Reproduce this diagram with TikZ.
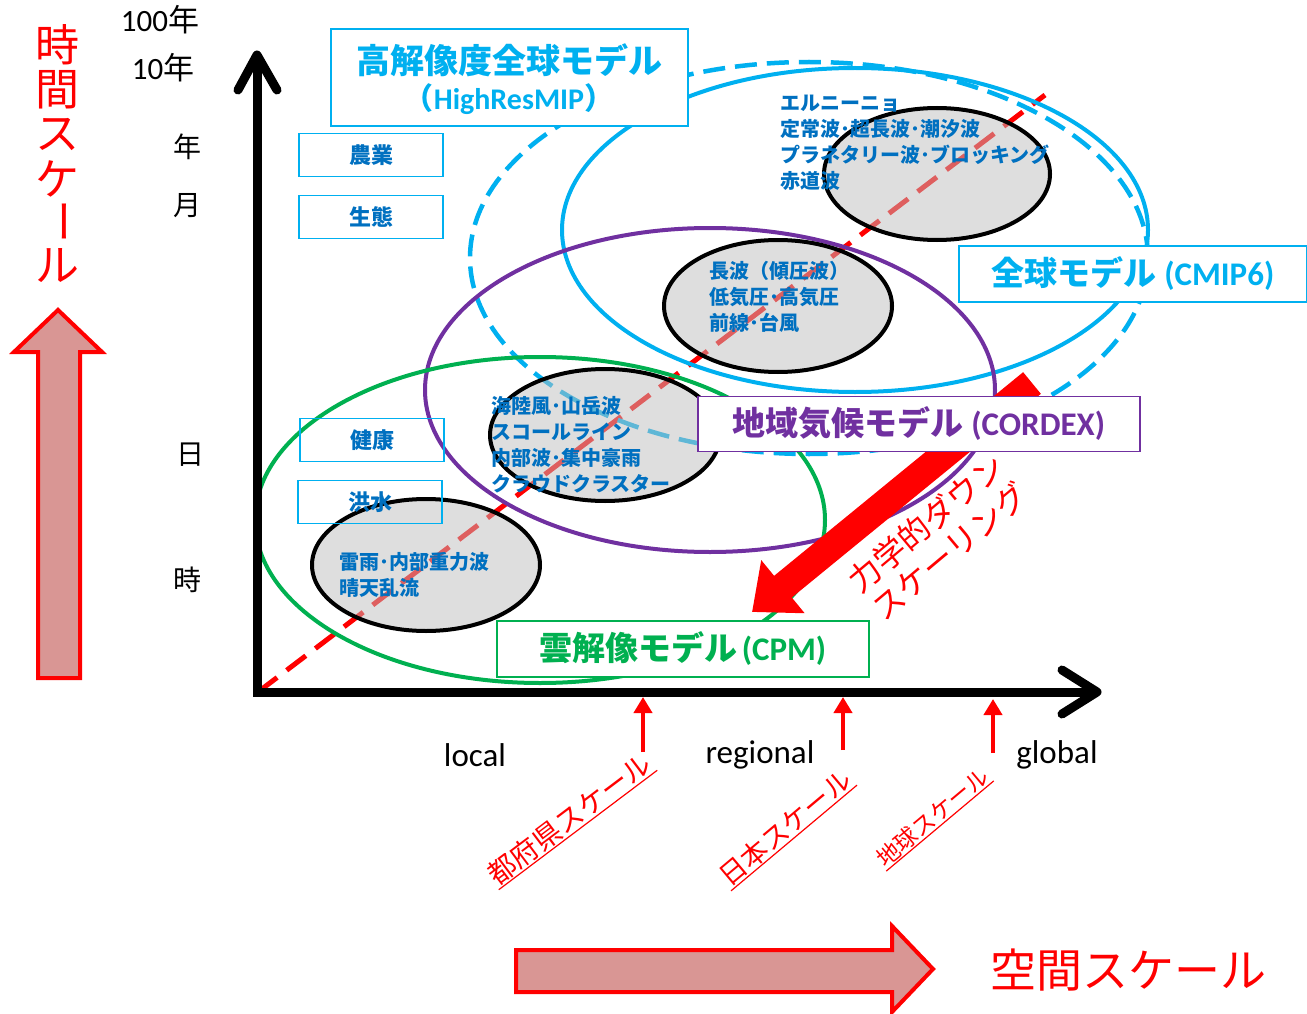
\documentclass[tikz,border=0pt]{standalone}
\usepackage{fontspec}
\usepackage{graphicx}
\usetikzlibrary{arrows.meta}
\setmainfont{Noto Sans CJK JP}
\newfontfamily\lat{Carlito}
\definecolor{lblue}{HTML}{00B0F0}
\definecolor{tblue}{HTML}{0070C0}
\definecolor{cpurple}{HTML}{7030A0}
\definecolor{cgreen}{HTML}{00B050}
\definecolor{cred}{HTML}{FF0000}
\definecolor{pinkfill}{HTML}{D99694}
\definecolor{grayfill}{HTML}{BEBEBE}
\tikzset{
 chevron/.style={line width=9pt, line cap=round, line join=round, black},
 smallbox/.style={draw=lblue, line width=1.5pt, minimum width=144pt, minimum height=43pt, text=tblue, font=\fontsize{22}{24}\selectfont\bfseries, inner sep=0pt},
 grayell/.style={draw=black, line width=4pt, fill=grayfill, fill opacity=0.5},
 elltext/.style={text=tblue, font=\fontsize{20}{26}\selectfont\bfseries, align=left, anchor=west, inner sep=0pt},
 labelbox/.style={fill=white, line width=1.5pt, font=\fontsize{33}{36}\selectfont\bfseries, inner sep=0pt},
 ylab/.style={font=\fontsize{28}{30}\selectfont, text=black, inner sep=0pt},
 numlab/.style={font=\fontsize{31}{33}\selectfont, text=black, inner sep=0pt},
 xlab/.style={font=\lat\fontsize{33}{35}\selectfont, text=black, inner sep=0pt},
 scalelab/.style={text=cred, inner sep=1pt, anchor=south},
 upar/.style={cred, line width=4pt, -{Triangle[length=16pt,width=18pt]}},
 vchar/.style={text=cred, font=\fontsize{44}{46}\selectfont, inner sep=0pt},
 bigarrow/.style={draw=cred, line width=4pt, fill=pinkfill, line join=miter},
}
\begin{document}
\begin{tikzpicture}[x=1pt,y=-1pt]
\useasboundingbox (0,0) rectangle (1307,1014);

% red dashed diagonal
\coordinate (o) at (258,692);
\coordinate (diagend) at (1045,95);
\draw[cred, line width=5pt, dash pattern=on 24pt off 12pt] (o) -- (diagend);

% model ellipses
\draw[lblue, line width=4.5pt, dash pattern=on 22pt off 10pt] (809,258) ellipse [x radius=339pt, y radius=196pt];
\draw[lblue, line width=4pt] (855,230) ellipse [x radius=293pt, y radius=162pt];
\draw[cpurple, line width=4pt] (710,390) ellipse [x radius=285pt, y radius=162pt];
\draw[cgreen, line width=4pt] (540,520) ellipse [x radius=285pt, y radius=163pt];

% phenomena ellipses
\draw[grayell] (937,174) ellipse [x radius=113pt, y radius=66pt];
\draw[grayell] (778,306) ellipse [x radius=114pt, y radius=66pt];
\draw[grayell] (605,435) ellipse [x radius=115pt, y radius=66pt];
\draw[grayell] (426,565) ellipse [x radius=114pt, y radius=66pt];

\node[elltext] (ta) at (780,143) {エルニーニョ\\定常波･超長波･潮汐波\\プラネタリー波･ブロッキング\\赤道波};
\node[elltext] (tb) at (709,297) {長波（傾圧波）\\低気圧･高気圧\\前線･台風};
\node[elltext] (tc) at (491,445) {海陸風･山岳波\\スコールライン\\内部波･集中豪雨\\クラウドクラスター};
\node[elltext] (td) at (339,575) {雷雨･内部重力波\\晴天乱流};

% dynamical downscaling arrow
\coordinate (dstail) at (1032,383);
\coordinate (dstip) at (752,612);
\draw[cred, line width=28pt, -{Triangle[length=40pt,width=66pt]}] (dstail) -- (dstip);
\node[text=cred, font=\fontsize{32}{37}\selectfont, rotate=40, align=center, inner sep=0pt] (dslab) at (938,537) {力学的ダウン\\スケーリング};

% label boxes
\node[labelbox, draw=lblue, text=lblue, minimum width=348pt, minimum height=56pt] (cmip) at (1133,274) {全球モデル {\lat (CMIP6)}};
\node[labelbox, draw=cpurple, text=cpurple, minimum width=442pt, minimum height=55pt] (cordex) at (919,424) {地域気候モデル {\lat (CORDEX)}};
\node[labelbox, draw=cgreen, text=cgreen, minimum width=372pt, minimum height=56pt] (cpm) at (683,649) {雲解像モデル{\lat\kern4pt(CPM)}};
\node[labelbox, draw=lblue, minimum width=357pt, minimum height=97pt] (hrbox) at (509.5,77.5) {};
\node[text=lblue, font=\fontsize{34}{36}\selectfont\bfseries, inner sep=0pt] (hr1) at (509,60) {高解像度全球モデル};
\node[text=lblue, font=\fontsize{30}{32}\selectfont\bfseries, inner sep=0pt] (hr2) at (509,99) {（{\lat HighResMIP}）};

% small boxes
\node[smallbox] (b1) at (371,155) {農業};
\node[smallbox] (b2) at (371,217) {生態};
\node[smallbox] (b3) at (372,440) {健康};
\node[smallbox] (b4) at (370,502) {洪水};

% axes
\coordinate (ytop) at (257,55);
\coordinate (xend) at (1097,692);
\draw[line width=9pt, black] (257,696) -- (ytop);
\draw[line width=9pt, black] (253,692) -- (xend);
\draw[chevron] (238,90) -- (ytop) -- (277,90);
\draw[chevron] (1062,670) -- (xend) -- (1062,714);

% y labels
\node[numlab] (y100) at (160,20) {{\lat 100}年};
\node[numlab] (y10) at (163,68) {{\lat 10}年};
\node[ylab] (yy) at (187,147) {年};
\node[ylab] (ym) at (187,206) {月};
\node[ylab] (yd) at (190,455) {日};
\node[ylab] (yh) at (187,580) {時};

% x labels
\node[xlab] (xl) at (475,755) {local};
\node[xlab] (xr) at (760,755) {regional};
\node[xlab] (xg) at (1057,755) {global};

% small red arrows
\coordinate (a1s) at (643,752); \coordinate (a1e) at (643,697);
\coordinate (a2s) at (843,750); \coordinate (a2e) at (843,697);
\coordinate (a3s) at (993,753); \coordinate (a3e) at (993,699);
\draw[upar] (a1s) -- (a1e);
\draw[upar] (a2s) -- (a2e);
\draw[upar] (a3s) -- (a3e);

% scale labels
\node[scalelab, rotate=37, font=\fontsize{28}{30}\selectfont] (s1) at (578,830) {都府県スケール};
\node[scalelab, rotate=40, font=\fontsize{27}{29}\selectfont] (s2) at (794,838) {日本スケール};
\node[scalelab, rotate=40, font=\fontsize{23}{25}\selectfont] (s3) at (940,826) {地球スケール};
\draw[cred, line width=1.2pt] (s1.south west) -- (s1.south east);
\draw[cred, line width=1.2pt] (s2.south west) -- (s2.south east);
\draw[cred, line width=1.2pt] (s3.south west) -- (s3.south east);

% time scale arrow and text
\draw[bigarrow] (38,678) -- (38,352) -- (14,352) -- (58,310) -- (102,352) -- (80,352) -- (80,678) -- cycle;
\node[vchar] (v1) at (57,45) {時};
\node[vchar] (v2) at (57,90) {間};
\node[vchar] (v3) at (57,135) {ス};
\node[vchar] (v4) at (57,179) {ケ};
\node[vchar, rotate=-90] (v5) at (57,222) {ー};
\node[vchar] (v6) at (57,266) {ル};

% space scale arrow and text
\draw[bigarrow] (516,950) -- (892,950) -- (892,926) -- (933,969) -- (892,1012) -- (892,992) -- (516,992) -- cycle;
\node[text=cred, font=\fontsize{46}{48}\selectfont, inner sep=0pt] (sp) at (1128,970) {空間スケール};
\end{tikzpicture}
\end{document}
